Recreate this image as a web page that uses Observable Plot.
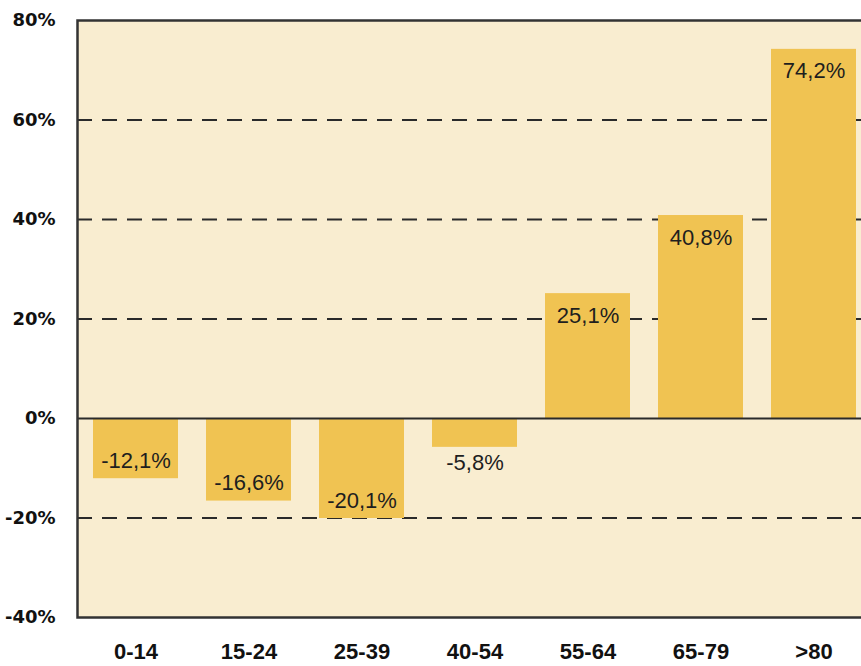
<!DOCTYPE html>
<html>
<head>
<meta charset="utf-8">
<script src="https://cdn.jsdelivr.net/npm/d3@7"></script>
<script src="https://cdn.jsdelivr.net/npm/@observablehq/plot@0.6"></script>
<style>
  body { margin: 0; background: #fff; overflow: hidden; }
  #chart svg { display: block; }
</style>
</head>
<body>
<div id="chart"></div>
<script>
const ages = ['0-14', '15-24', '25-39', '40-54', '55-64', '65-79', '>80'];
const changes = [-12.1, -16.6, -20.1, -5.8, 25.1, 40.8, 74.2];
const yTicks = [-40, -20, 0, 20, 40, 60, 80];
const gridLines = [-20, 20, 40, 60];

const data = ages.map((age, i) => ({ age, value: changes[i] }));
const fmt = v => v.toFixed(1).replace('.', ',') + '%';

const barColor = '#f0c352';
const labelFont = "'Liberation Sans', Arial, sans-serif";
const labelStyle = { fontSize: 22, fill: '#1e1e1e', fontFamily: labelFont };

const chart = Plot.plot({
  width: 861,
  height: 666,
  marginLeft: 77,
  marginRight: -10,
  marginTop: 20,
  marginBottom: 49,
  style: { background: 'transparent', overflow: 'hidden' },
  x: { domain: ages, paddingInner: 0.25, paddingOuter: 0.125, label: null },
  y: { domain: [-40, 80], label: null },
  marks: [
    Plot.frame({ fill: '#f9edd0', stroke: 'none' }),
    Plot.ruleY(gridLines, { stroke: '#2a2a2a', strokeWidth: 2, strokeDasharray: '15,10' }),
    Plot.barY(data, { x: 'age', y: 'value', fill: barColor }),
    Plot.ruleY([0], { stroke: '#2a2a2a', strokeWidth: 2 }),
    Plot.frame({ stroke: '#333', strokeWidth: 2.5 }),
    // labels inside the bars for big values, outside for small negatives
    Plot.text(data.filter(d => d.value > 0), {
      x: 'age', y: 'value', text: d => fmt(d.value), dy: 22, ...labelStyle
    }),
    Plot.text(data.filter(d => d.value < -10), {
      x: 'age', y: 'value', text: d => fmt(d.value), dy: -18, ...labelStyle
    }),
    Plot.text(data.filter(d => d.value < 0 && d.value >= -10), {
      x: 'age', y: 'value', text: d => fmt(d.value), dy: 16, ...labelStyle
    }),
    Plot.axisY(yTicks, {
      tickSize: 0, tickPadding: 22, tickFormat: d => d + '%',
      fontSize: 18, fontWeight: 'bold', fill: '#111',
      fontFamily: "'DejaVu Sans', sans-serif",
      label: null
    }),
    Plot.axisX({
      tickSize: 0, tickPadding: 26,
      fontSize: 22, fontWeight: 'bold', fill: '#111',
      fontFamily: "'Liberation Sans', Arial, sans-serif",
      label: null
    })
  ]
});

d3.select('#chart').append(() => chart);
</script>
</body>
</html>
